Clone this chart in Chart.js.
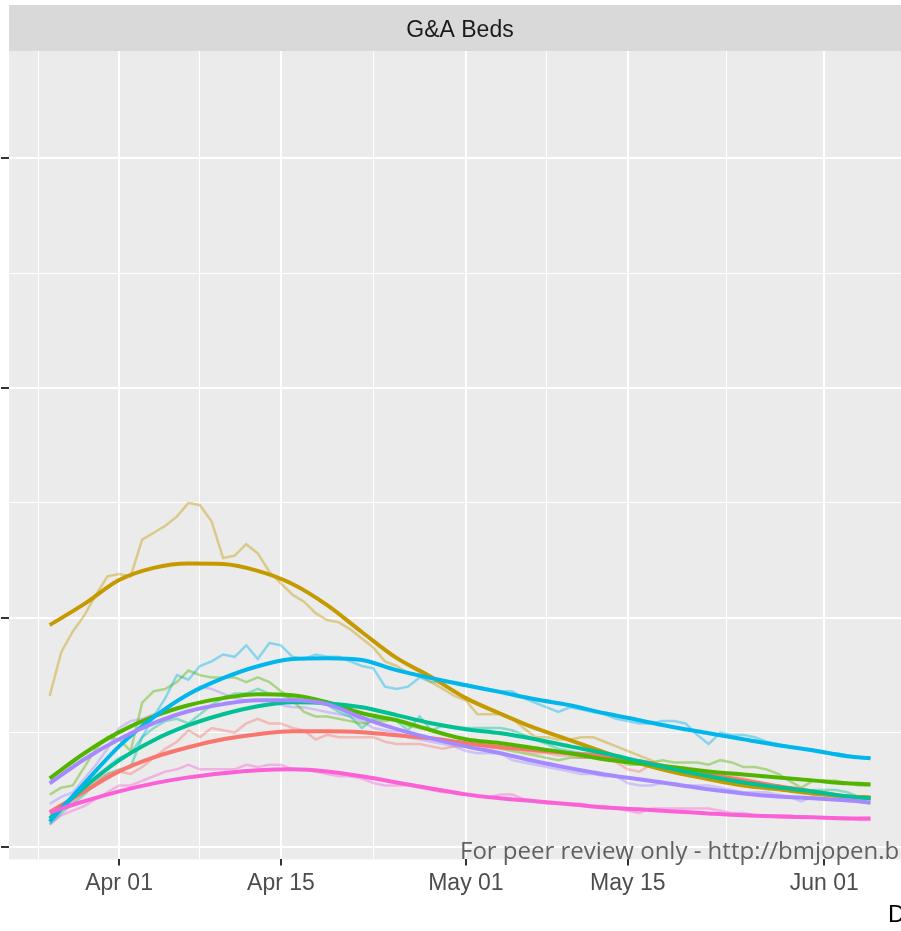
<!DOCTYPE html>
<html>
<head>
<meta charset="utf-8">
<script src="https://cdn.jsdelivr.net/npm/chart.js@4.4.1/dist/chart.umd.min.js"></script>
<style>
  html, body { margin: 0; padding: 0; background: #ffffff; overflow: hidden; }
  #wrap { position: relative; width: 1000px; height: 931px; }
</style>
</head>
<body>
<div id="wrap"><canvas id="bedsChart"></canvas></div>
<script>
// x values are days since Apr 01
const tickDays = [0, 14, 30, 44, 61];
const tickLabels = ['Apr 01', 'Apr 15', 'May 01', 'May 15', 'Jun 01'];
const minorDays = [-7, 7, 22, 37, 52.5];
const yMajor = [0, 1, 2, 3];
const yMinor = [0.5, 1.5, 2.5];

const regions = ['East of England', 'London', 'Midlands', 'North East and Yorkshire', 'North West', 'South East', 'South West'];
const regionColors = ['#F8766D', '#C49A00', '#53B400', '#00C094', '#00B6EB', '#A58AFF', '#FB61D7'];

// daily observed values, first value is Mar 26 (day -6)
const rawStartDay = -6;
const rawEast = [0.14, 0.17, 0.20, 0.24, 0.29, 0.32, 0.33, 0.32, 0.35, 0.39, 0.43, 0.46, 0.51, 0.48, 0.52, 0.51, 0.50, 0.54, 0.56, 0.54, 0.54, 0.52, 0.51, 0.47, 0.49,
  0.48, 0.48, 0.48, 0.48, 0.46, 0.45, 0.45, 0.45, 0.44, 0.43, 0.44, 0.44, 0.44, 0.45, 0.44, 0.44, 0.42, 0.41, 0.41, 0.40, 0.40, 0.39, 0.39,
  0.39, 0.37, 0.34, 0.33, 0.36, 0.35, 0.35, 0.34, 0.33, 0.32, 0.31, 0.31, 0.30, 0.29, 0.28, 0.27, 0.26, 0.25, 0.24, 0.23, 0.23, 0.22, 0.22, 0.21];
const rawLondon = [0.66, 0.85, 0.94, 1.01, 1.10, 1.18, 1.19, 1.18, 1.34, 1.37, 1.40, 1.44, 1.50, 1.49, 1.42, 1.26, 1.27, 1.32, 1.28, 1.20, 1.15, 1.10, 1.07, 1.02, 0.99,
  0.98, 0.95, 0.91, 0.87, 0.81, 0.79, 0.76, 0.75, 0.72, 0.69, 0.66, 0.64, 0.58, 0.58, 0.58, 0.56, 0.52, 0.48, 0.48, 0.47, 0.47, 0.48, 0.48,
  0.46, 0.44, 0.42, 0.40, 0.38, 0.35, 0.33, 0.32, 0.31, 0.30, 0.29, 0.28, 0.28, 0.27, 0.26, 0.26, 0.25, 0.24, 0.23, 0.23, 0.22, 0.22, 0.22, 0.22];
const rawMidlands = [0.23, 0.26, 0.27, 0.35, 0.43, 0.48, 0.47, 0.42, 0.63, 0.68, 0.69, 0.72, 0.77, 0.75, 0.74, 0.74, 0.74, 0.72, 0.74, 0.72, 0.68, 0.64, 0.59, 0.57, 0.57,
  0.56, 0.55, 0.54, 0.55, 0.55, 0.56, 0.53, 0.52, 0.51, 0.49, 0.48, 0.47, 0.46, 0.44, 0.43, 0.42, 0.41, 0.40, 0.39, 0.38, 0.39, 0.39, 0.39,
  0.38, 0.38, 0.36, 0.36, 0.37, 0.38, 0.37, 0.37, 0.37, 0.36, 0.38, 0.37, 0.35, 0.35, 0.34, 0.32, 0.29, 0.26, 0.29, 0.29, 0.29, 0.28, 0.27, 0.27];
const rawNorthEast = [0.10, 0.15, 0.19, 0.23, 0.28, 0.32, 0.34, 0.35, 0.48, 0.52, 0.55, 0.56, 0.54, 0.58, 0.62, 0.65, 0.67, 0.67, 0.69, 0.67, 0.66, 0.65, 0.64, 0.63, 0.62,
  0.59, 0.57, 0.52, 0.56, 0.56, 0.55, 0.51, 0.57, 0.51, 0.53, 0.52, 0.52, 0.52, 0.52, 0.52, 0.51, 0.49, 0.47, 0.45, 0.43, 0.42, 0.41, 0.41,
  0.40, 0.39, 0.38, 0.38, 0.37, 0.36, 0.34, 0.33, 0.31, 0.30, 0.29, 0.28, 0.28, 0.28, 0.27, 0.27, 0.25, 0.24, 0.25, 0.25, 0.25, 0.24, 0.22, 0.21];
const rawNorthWest = [0.11, 0.16, 0.21, 0.26, 0.31, 0.35, 0.39, 0.41, 0.48, 0.57, 0.65, 0.75, 0.73, 0.79, 0.81, 0.84, 0.83, 0.88, 0.82, 0.89, 0.88, 0.83, 0.82, 0.84, 0.83,
  0.83, 0.81, 0.79, 0.78, 0.70, 0.69, 0.70, 0.74, 0.72, 0.72, 0.72, 0.71, 0.70, 0.69, 0.68, 0.68, 0.65, 0.63, 0.61, 0.59, 0.61, 0.60, 0.59,
  0.58, 0.56, 0.55, 0.54, 0.54, 0.55, 0.55, 0.54, 0.49, 0.45, 0.50, 0.49, 0.49, 0.48, 0.46, 0.45, 0.44, 0.43, 0.42, 0.41, 0.41, 0.40, 0.39, 0.39];
const rawSouthEast = [0.19, 0.22, 0.24, 0.30, 0.36, 0.43, 0.52, 0.55, 0.56, 0.58, 0.59, 0.64, 0.67, 0.70, 0.69, 0.67, 0.65, 0.64, 0.64, 0.64, 0.62, 0.61, 0.61, 0.60, 0.59,
  0.58, 0.57, 0.55, 0.52, 0.51, 0.50, 0.48, 0.47, 0.46, 0.45, 0.44, 0.42, 0.41, 0.41, 0.41, 0.38, 0.37, 0.36, 0.35, 0.34, 0.33, 0.32, 0.32,
  0.31, 0.31, 0.28, 0.27, 0.27, 0.28, 0.28, 0.27, 0.27, 0.27, 0.26, 0.25, 0.24, 0.24, 0.24, 0.23, 0.22, 0.20, 0.22, 0.21, 0.21, 0.20, 0.20, 0.19];
const rawSouthWest = [0.10, 0.14, 0.16, 0.18, 0.21, 0.24, 0.27, 0.27, 0.29, 0.31, 0.33, 0.34, 0.36, 0.34, 0.34, 0.34, 0.34, 0.36, 0.35, 0.36, 0.36, 0.34, 0.34, 0.33, 0.32,
  0.31, 0.31, 0.30, 0.28, 0.27, 0.27, 0.27, 0.26, 0.25, 0.24, 0.24, 0.23, 0.22, 0.22, 0.23, 0.23, 0.21, 0.20, 0.19, 0.19, 0.19, 0.19, 0.18,
  0.18, 0.17, 0.16, 0.15, 0.17, 0.17, 0.17, 0.17, 0.17, 0.17, 0.16, 0.15, 0.15, 0.14, 0.14, 0.14, 0.14, 0.13, 0.13, 0.13, 0.13, 0.13, 0.12, 0.12];

// smoothed fit, read every 3 days
const smoothDays = [-6, -3, 0, 3, 6, 9, 12, 15, 18, 21, 24, 27, 30, 33, 36, 39, 42, 45, 48, 51, 54, 57, 60, 63, 65];
const fitEast = [0.153, 0.244, 0.331, 0.392, 0.436, 0.471, 0.493, 0.506, 0.506, 0.502, 0.488, 0.475, 0.454, 0.436, 0.423, 0.410, 0.397, 0.375, 0.345, 0.318, 0.292, 0.266, 0.244, 0.222, 0.214];
const fitLondon = [0.968, 1.060, 1.164, 1.217, 1.236, 1.234, 1.204, 1.147, 1.055, 0.938, 0.825, 0.742, 0.650, 0.582, 0.519, 0.467, 0.414, 0.366, 0.327, 0.297, 0.270, 0.253, 0.235, 0.222, 0.218];
const fitMidlands = [0.301, 0.410, 0.502, 0.571, 0.619, 0.650, 0.667, 0.663, 0.632, 0.584, 0.554, 0.510, 0.471, 0.454, 0.432, 0.410, 0.384, 0.366, 0.349, 0.331, 0.318, 0.305, 0.292, 0.279, 0.275];
const fitNorthEast = [0.126, 0.262, 0.379, 0.467, 0.532, 0.580, 0.615, 0.632, 0.628, 0.610, 0.576, 0.541, 0.515, 0.497, 0.471, 0.440, 0.410, 0.375, 0.340, 0.310, 0.283, 0.262, 0.244, 0.222, 0.214];
const fitNorthWest = [0.113, 0.279, 0.440, 0.567, 0.667, 0.737, 0.789, 0.820, 0.824, 0.816, 0.772, 0.737, 0.706, 0.676, 0.645, 0.619, 0.584, 0.554, 0.523, 0.497, 0.471, 0.445, 0.423, 0.397, 0.388];
const fitSouthEast = [0.279, 0.384, 0.471, 0.541, 0.593, 0.624, 0.641, 0.641, 0.624, 0.565, 0.515, 0.475, 0.440, 0.410, 0.375, 0.345, 0.318, 0.297, 0.275, 0.253, 0.235, 0.222, 0.214, 0.205, 0.196];
const fitSouthWest = [0.153, 0.201, 0.244, 0.279, 0.305, 0.323, 0.336, 0.340, 0.331, 0.310, 0.283, 0.257, 0.231, 0.214, 0.201, 0.188, 0.174, 0.166, 0.157, 0.148, 0.140, 0.135, 0.131, 0.126, 0.126];

const rawSeries = [rawEast, rawLondon, rawMidlands, rawNorthEast, rawNorthWest, rawSouthEast, rawSouthWest];
const fitSeries = [fitEast, fitLondon, fitMidlands, fitNorthEast, fitNorthWest, fitSouthEast, fitSouthWest];

const labelFont = "'Liberation Sans', Arial, sans-serif";

// hex colour to rgba with alpha
function withAlpha(hex, a) {
    const n = parseInt(hex.slice(1), 16);
    return `rgba(${(n >> 16) & 255}, ${(n >> 8) & 255}, ${n & 255}, ${a})`;
}

const datasets = [];
// faint daily lines underneath
rawSeries.forEach((vals, k) => {
    datasets.push({
        label: regions[k] + ' (daily)',
        data: vals.map((v, i) => ({ x: rawStartDay + i, y: v })),
        borderColor: withAlpha(regionColors[k], 0.42),
        borderWidth: 2.5,
        pointRadius: 0,
        tension: 0,
        order: 20 + k
    });
});
// smoothed lines on top, later regions drawn over earlier ones
fitSeries.forEach((vals, k) => {
    datasets.push({
        label: regions[k],
        data: vals.map((v, i) => ({ x: smoothDays[i], y: v })),
        borderColor: regionColors[k],
        borderWidth: 4,
        pointRadius: 0,
        cubicInterpolationMode: 'monotone',
        order: 10 - k
    });
});

// panel background, facet strip and extra texts
const ggDecor = {
    id: 'ggDecor',
    beforeDraw(chart) {
        const { ctx, chartArea: a } = chart;
        ctx.save();
        ctx.fillStyle = '#EBEBEB';
        ctx.fillRect(a.left, a.top, a.right - a.left, a.bottom - a.top);
        ctx.fillStyle = '#D9D9D9';
        ctx.fillRect(a.left, 5, a.right - a.left, a.top - 5);
        ctx.fillStyle = '#1A1A1A';
        ctx.font = `23px ${labelFont}`;
        ctx.textAlign = 'center';
        ctx.textBaseline = 'alphabetic';
        ctx.fillText('G&A Beds', (a.left + a.right) / 2, 37);
        ctx.restore();
    },
    afterDraw(chart) {
        const { ctx } = chart;
        ctx.save();
        ctx.fillStyle = '#606060';
        ctx.font = "24px 'Open Sans', sans-serif";
        ctx.textAlign = 'left';
        ctx.textBaseline = 'alphabetic';
        ctx.fillText('For peer review only - http://bmjopen.bmj.com/site/about/guidelines.xhtml', 460, 859);
        ctx.fillStyle = '#000000';
        ctx.font = `24px ${labelFont}`;
        ctx.fillText('Date', 888, 922);
        ctx.restore();
    }
};

const isMajorX = v => tickDays.includes(v);
const isMajorY = v => yMajor.includes(v);

new Chart(document.getElementById('bedsChart').getContext('2d'), {
    type: 'line',
    data: { datasets: datasets },
    options: {
        responsive: true,
        maintainAspectRatio: false,
        animation: false,
        events: [],
        layout: { padding: { left: 1, right: 89, top: 51, bottom: 30 } },
        plugins: {
            legend: { display: false },
            tooltip: { enabled: false }
        },
        scales: {
            x: {
                type: 'linear',
                min: -9.52,
                max: 68.5,
                afterBuildTicks: axis => {
                    axis.ticks = [...tickDays, ...minorDays].sort((p, q) => p - q).map(v => ({ value: v }));
                },
                ticks: {
                    autoSkip: false,
                    maxRotation: 0,
                    padding: 4,
                    color: '#4D4D4D',
                    font: { family: labelFont, size: 23 },
                    callback: value => {
                        const i = tickDays.indexOf(value);
                        return i >= 0 ? tickLabels[i] : '';
                    }
                },
                grid: {
                    color: '#FFFFFF',
                    lineWidth: c => (isMajorX(c.tick.value) ? 2 : 1),
                    tickColor: c => (isMajorX(c.tick.value) ? '#333333' : 'rgba(0,0,0,0)'),
                    tickWidth: 2,
                    tickLength: 6
                },
                border: { display: false }
            },
            y: {
                min: -0.052,
                max: 3.467,
                afterBuildTicks: axis => {
                    axis.ticks = [...yMajor, ...yMinor].sort((p, q) => p - q).map(v => ({ value: v }));
                },
                ticks: { display: false },
                grid: {
                    color: '#FFFFFF',
                    lineWidth: c => (isMajorY(c.tick.value) ? 2 : 1),
                    tickColor: c => (isMajorY(c.tick.value) ? '#333333' : 'rgba(0,0,0,0)'),
                    tickWidth: 2,
                    tickLength: 8
                },
                border: { display: false }
            }
        }
    },
    plugins: [ggDecor]
});
</script>
</body>
</html>
